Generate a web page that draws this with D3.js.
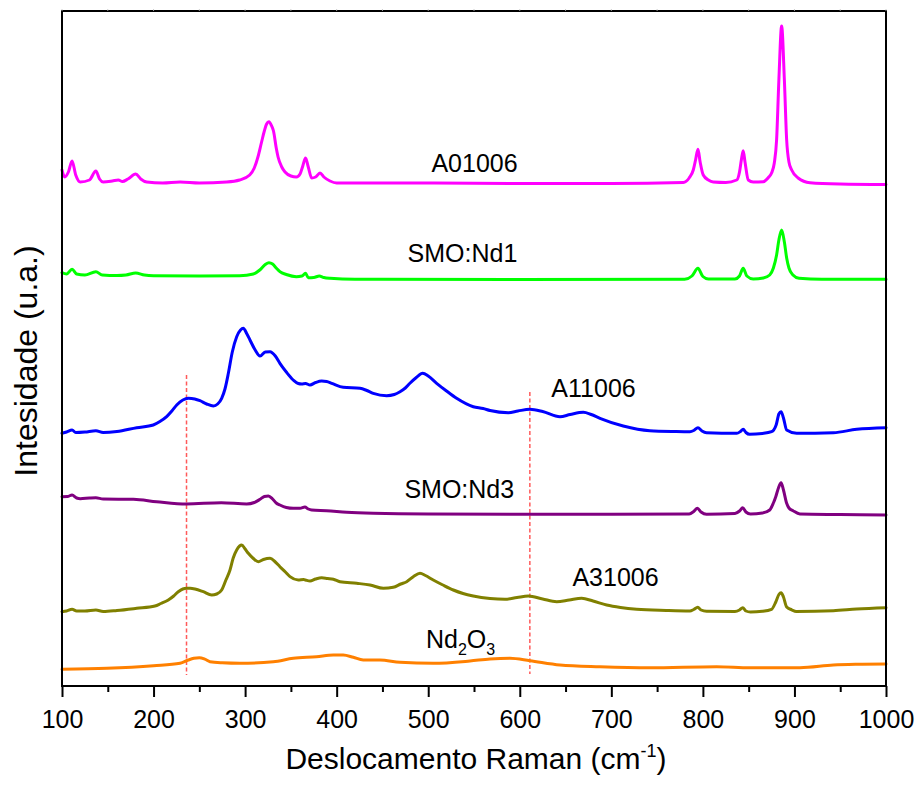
<!DOCTYPE html>
<html>
<head>
<meta charset="utf-8">
<script src="https://cdn.jsdelivr.net/npm/d3@7/dist/d3.min.js"></script>
<style>
  html, body { margin: 0; padding: 0; background: #fff; }
  svg { display: block; font-family: "Liberation Sans", Arial, sans-serif; }
</style>
</head>
<body>
<svg id="chart" width="915" height="789"></svg>
<script>
// ---------- DATA (wavenumber in cm^-1, intensity in arbitrary units) ----------
const xTicks = [100, 200, 300, 400, 500, 600, 700, 800, 900, 1000];
const xMinorTicks = [150, 250, 350, 450, 550, 650, 750, 850, 950];
const dashedLines = [236, 611];

const a01006X = [100,103,107,111,115,120,130,137,141,145,155,161.5,166,172,180.5,186,192.5,210,229,250,280,294,305,310,314,318,321,323.5,326,329,331,334,336,340,343.6,350,356,360,363,366,369,372.7,377,381.8,386,392.7,400,450,500,600,700,778.6,785,789.5,792,794.6,797,800.4,806,811.3,825,836.9,840,842,844,846,849.6,855,866,872,875,878,880.5,883,886,889,891.5,894,897,904,917,950,1000];
const a01006Pix = [170,177,172,161,175,182,180,171,179,182,181,180,181.5,179,174,179,182,183,182,183,182,180,175,168,157,142,131,124,121.7,126,131,148,157,167,172,176,177,174,166,158,167,178,177,173,177,181,183,183,183,183.5,183.5,182.5,178,170,160,149.3,162,175,180,182,182.5,180,172,160,150.7,162,180,182,181.7,177,173,163,140,80,26,80,140,162,170,178,182.7,184,184.5];

const smoNd1X = [100,105,111,116,125,137,144,160,170,180.5,190,200,250,294,309,316,322,326,330,334,338,345,356,362,366,369,375,381,386,392.7,420,600,780,788,794.6,800,806,835,840,844,848,855,866,873,877,880.5,883,886,889,891.5,894,898.4,905,930,1000];
const smoNd1Pix = [272.7,274,269.3,274,275,271.7,275,275.5,275,273,275,275.7,276,275.7,274,270,264.5,262.7,264,268,271.7,274.5,276.7,276,273.3,277.7,277.5,276,277.5,278.3,279.3,279.5,279.3,276,268.3,276.5,279,279,276,268.3,276,279,278,275,268,255,240,230,242,258,268,275,278.3,279.3,279.3];

const a11006X = [100,105,111,115,125,137,145,160,181.6,199.7,207,214.3,220,225.3,232,238,245,250.7,258,265.3,270,274.4,278,281.7,286,290.8,295,298,302,305.3,311,316.3,322,327.2,333,338,345,352.6,358,361.8,366,370.9,377,383.6,389,394.6,407.2,425.5,433,440,454.6,463,469.2,475,480,487,494,500,509.2,520,531,549.2,560,567.5,587.5,598,611,625,643.9,655,669.4,678,687.6,713,742,770,785.9,790,794.6,799,804,837,841,844,847,851,865,875,880,883,885.4,888,891.5,902.4,942.5,968,1000];
const a11006Pix = [433.3,432,430,432.5,432,430.7,432.5,431.5,427.7,425,421.5,416.7,411,405,400,398.3,399,400.7,404,406,404,398.3,389,373.3,352,336.7,330,328.3,334,340,350,356,352,351.7,356,363.3,372,380,383.5,384,383.5,385,382.5,381,381.5,383.3,387.3,388.3,390.5,393.3,395.7,394.5,391.7,388,383.3,377.5,373.3,376,383.3,391,398.3,406.7,408.5,410.5,412.7,411,409.3,411.5,416.7,414.5,412.3,414.5,418.3,426,430.7,431.5,431.7,430.5,427.7,431,432.7,433.3,431.5,429.3,432.5,434.3,433.5,431.7,425,414,411.7,418,430,433.3,432.7,429.3,427.7];

const smoNd3X = [100,106,111,116,120,130,137,145,178,203.4,236,274,301.7,310,316.3,321,325.4,330,334,338,345,352.6,360,365.3,369,372.7,389,411,440,500,700,785,790,794,798,804,835,840,843.5,847,852,865,873,877,879.6,882.5,885.4,888,891.5,894,898.4,906,950,1000];
const smoNd3Pix = [496.7,496.5,495,498,498.7,498,497.7,499,499.3,501.7,504,502.7,504,502.5,499.3,496.5,496,499,503,505,507.5,508.3,508.3,507,509,510,510.7,512.3,513.3,514,514.3,514,511.5,508.3,512,514.3,513.5,511,507.7,512,514,513,510,503,496.7,488,482.7,490,503.3,508,510.7,514,514.5,515];

const a31006X = [100,105,111,116,125,137,145,160,181.6,201.5,208,216.1,222,227,232,236,240,245.3,254.3,263.5,269,274.4,279,283.5,287,290.8,294,296.3,300,303.5,309,314.4,320,327.2,333,338,344,349,358,364,366,370.9,377,383.6,390,396.4,403.6,421.9,436.4,451,461.8,470,476.5,484,491,497,505.5,516,527.4,538,549.2,567.5,583.8,597,609.3,625,640.3,654,667.6,680,694.9,710,727.7,760,785.9,790,794.4,798,804,835,840,843.5,847,852,865,875,879.6,883,885.4,888,891.5,897,902,942.5,968,1000];
const a31006Pix = [611.7,611,609.3,611,611,610,611.5,610.5,608.3,606,603.5,600,596,591.7,589,588.3,588.3,589,591.7,595,594,590,580,570,558,550,546,545,549,553.3,558.5,561.7,559.5,558.3,562,566.7,572,576.7,580,579.5,580,581,579,577.7,578.5,579.3,581.7,583.3,585,588.3,587.3,584,581.7,576.5,573.3,575.5,580,585,590,593.5,596,598.5,599.3,597.5,596,599,601.7,600,598.3,601,605,607.5,609.3,610.5,611,609.5,607.3,610,611.3,611.5,610,607.7,611,612,611.3,609.3,602,594.5,592.7,597,607,609.8,611.5,610.7,609,607.7];

const nd2o3X = [100,149,200,229,238,244,250,256,261.6,275,294.4,330.8,352.6,378,396.4,407.2,418.2,429,447.3,469.2,505.5,545.6,567.5,589.3,611,643.9,687.6,742,815,851.4,906,942.5,968,1000];
const nd2o3Pix = [669.3,668.3,665.7,663.3,660,658.3,657.7,659.2,661.7,662.8,663.3,661.7,658.3,656.7,655,655,657.3,660,660,662.3,663.3,661,659,658.3,660.7,665,666.7,667.7,666.7,667.7,667.7,665,664.3,664];

// Intensities (a.u.): height above the x axis baseline
const toInt = arr => arr.map(v => +(686 - v).toFixed(1));
const a01006Y = toInt(a01006Pix);
const smoNd1Y = toInt(smoNd1Pix);
const a11006Y = toInt(a11006Pix);
const smoNd3Y = toInt(smoNd3Pix);
const a31006Y = toInt(a31006Pix);
const nd2o3Y  = toInt(nd2o3Pix);

const seriesNames = ["A01006", "SMO:Nd1", "A11006", "SMO:Nd3", "A31006", "Nd2O3"];
const seriesColors = ["#ff00ff", "#00ff00", "#0000ff", "#800080", "#808000", "#ff8000"];
// label anchor positions in data coordinates (wavenumber, intensity)
const labelX = [503.5, 477.5, 634.5, 474, 657.5, 497.5];
const labelY = [514, 424.3, 289.3, 187.7, 100.3, 38.3];

// ---------- CHART ----------
const svg = d3.select("#chart");
const margin = {left: 62, right: 29, top: 11, bottom: 103};
const W = 915, H = 789;
const x = d3.scaleLinear().domain([100, 1000]).range([margin.left, W - margin.right]);
const y = d3.scaleLinear().domain([0, 675]).range([H - margin.bottom, margin.top]);

const seriesX = [a01006X, smoNd1X, a11006X, smoNd3X, a31006X, nd2o3X];
const seriesY = [a01006Y, smoNd1Y, a11006Y, smoNd3Y, a31006Y, nd2o3Y];

const line = d3.line().x(d => x(d[0])).y(d => y(d[1])).curve(d3.curveMonotoneX);

// dashed guide lines
const dashRanges = [[311, 11], [294, 12]];
svg.append("g").selectAll("line").data(dashedLines).join("line")
  .attr("x1", d => x(d)).attr("x2", d => x(d))
  .attr("y1", (d, i) => y(dashRanges[i][0])).attr("y2", (d, i) => y(dashRanges[i][1]))
  .attr("stroke", "#ff5a5a").attr("stroke-width", 1.5).attr("stroke-dasharray", "4,2.5");

// series lines
seriesNames.forEach((name, i) => {
  const pts = seriesX[i].map((xv, j) => [xv, seriesY[i][j]]);
  svg.append("path").datum(pts)
    .attr("fill", "none").attr("stroke", seriesColors[i])
    .attr("stroke-width", 3).attr("stroke-linejoin", "round").attr("stroke-linecap", "round")
    .attr("d", line);
});

// frame
const x0 = x(100), x1 = x(1000), y0 = y(0), y1 = y(675);
svg.append("rect").attr("x", x0).attr("y", y1).attr("width", x1 - x0).attr("height", y0 - y1)
  .attr("fill", "none").attr("stroke", "#000").attr("stroke-width", 2);

// top mirror ticks (faint)
svg.append("g").selectAll("line").data(xTicks.concat(xMinorTicks)).join("line")
  .attr("x1", d => x(d)).attr("x2", d => x(d)).attr("y1", y1).attr("y2", y1 - 1.5)
  .attr("stroke", "#999").attr("stroke-width", 1);

// bottom axis
const axisMajor = d3.axisBottom(x).tickValues(xTicks).tickSize(11).tickPadding(13).tickFormat(d3.format("d"));
const gx = svg.append("g").attr("transform", `translate(0,${y0})`).call(axisMajor);
gx.select(".domain").remove();
gx.selectAll(".tick line").attr("stroke", "#000").attr("stroke-width", 2);
gx.selectAll(".tick text").attr("font-size", 25).attr("fill", "#000")
  .attr("font-family", "Liberation Sans, Arial, sans-serif");
const axisMinor = d3.axisBottom(x).tickValues(xMinorTicks).tickSize(6).tickFormat("");
const gm = svg.append("g").attr("transform", `translate(0,${y0})`).call(axisMinor);
gm.select(".domain").remove();
gm.selectAll(".tick line").attr("stroke", "#000").attr("stroke-width", 2);

// axis titles
const xt = svg.append("text").attr("x", (x0 + x1) / 2 + 2).attr("y", 769)
  .attr("text-anchor", "middle").attr("font-size", 30).attr("fill", "#000");
xt.append("tspan").text("Deslocamento Raman (cm");
xt.append("tspan").text("-1").attr("font-size", 18).attr("dy", -12);
xt.append("tspan").text(")").attr("dy", 12);

svg.append("text").attr("transform", "translate(37,361) rotate(-90)")
  .attr("text-anchor", "middle").attr("font-size", 32).attr("fill", "#000")
  .text("Intesidade (u.a.)");

// series labels
seriesNames.forEach((name, i) => {
  const t = svg.append("text").attr("x", x(labelX[i])).attr("y", y(labelY[i]))
    .attr("font-size", 25).attr("fill", "#000");
  if (name === "Nd2O3") {
    t.append("tspan").text("Nd");
    t.append("tspan").text("2").attr("font-size", 16).attr("dy", 7);
    t.append("tspan").text("O").attr("dy", -7);
    t.append("tspan").text("3").attr("font-size", 16).attr("dy", 7);
  } else {
    t.text(name);
  }
});
</script>
</body>
</html>
